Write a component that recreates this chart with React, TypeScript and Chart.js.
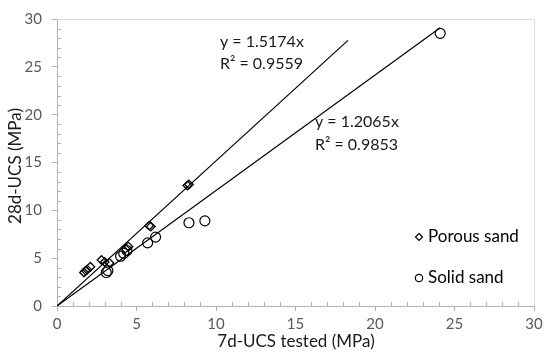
import React, { useEffect, useRef } from "react";
import { Chart, registerables } from "chart.js";

Chart.register(...registerables);

// ---- Data ----
const porousX = [1.7, 1.9, 2.1, 1.8, 2.8, 3.0, 3.3, 4.3, 4.5, 5.8, 5.9, 8.2, 8.3];
const porousY = [3.5, 3.8, 4.1, 3.7, 4.8, 4.6, 4.5, 6.0, 6.2, 8.4, 8.3, 12.6, 12.7];
const solidX = [3.1, 3.2, 4.0, 4.2, 4.4, 5.7, 6.2, 8.3, 9.3, 24.1];
const solidY = [3.5, 3.7, 5.2, 5.5, 5.8, 6.6, 7.2, 8.7, 8.9, 28.5];

const porousSlope = 1.5174;
const porousR2 = "0.9559";
const porousLineX = [0, 18.3];
const solidSlope = 1.2065;
const solidR2 = "0.9853";
const solidLineX = [0, 24.1];

const seriesNames = ["Porous sand", "Solid sand"];
const xTitle = "7d-UCS tested (MPa)";
const yTitle = "28d-UCS (MPa)";
const axisMin = 0;
const axisMax = 30;
const majorStep = 5;
const minorStep = 1;

const FONT = "Lato, 'Open Sans', sans-serif";
const AXIS_COLOR = "#b3b3b3";

const decorPlugin = {
  id: "decor",
  afterDraw(chart: any) {
    const { ctx, chartArea: ca, scales } = chart;
    const x = scales.x;
    const y = scales.y;
    ctx.save();
    // plot frame top & right
    ctx.strokeStyle = "#d9d9d9";
    ctx.lineWidth = 1;
    ctx.beginPath();
    ctx.moveTo(ca.left, Math.round(ca.top) + 0.5);
    ctx.lineTo(Math.round(ca.right) + 0.5, Math.round(ca.top) + 0.5);
    ctx.lineTo(Math.round(ca.right) + 0.5, ca.bottom);
    ctx.stroke();

    // minor ticks (inside)
    ctx.strokeStyle = AXIS_COLOR;
    ctx.beginPath();
    for (let v = axisMin + minorStep; v < axisMax; v += minorStep) {
      if (v % majorStep === 0) continue;
      const px = Math.round(x.getPixelForValue(v)) + 0.5;
      ctx.moveTo(px, ca.bottom);
      ctx.lineTo(px, ca.bottom - 4);
      const py = Math.round(y.getPixelForValue(v)) + 0.5;
      ctx.moveTo(ca.left, py);
      ctx.lineTo(ca.left + 4, py);
    }
    ctx.stroke();

    // equations
    ctx.fillStyle = "#1a1a1a";
    ctx.font = `16px ${FONT}`;
    ctx.textBaseline = "middle";
    ctx.textAlign = "left";
    ctx.fillText(`y = ${porousSlope}x`, 220, 42);
    ctx.fillText(`R² = ${porousR2}`, 220, 64);
    ctx.fillText(`y = ${solidSlope}x`, 315, 122);
    ctx.fillText(`R² = ${solidR2}`, 315, 145);

    // legend
    ctx.fillStyle = "#000";
    ctx.font = `17px ${FONT}`;
    ctx.fillText(seriesNames[0], 428, 237);
    ctx.fillText(seriesNames[1], 428, 278);
    ctx.strokeStyle = "#000";
    ctx.lineWidth = 1.2;
    ctx.beginPath();
    ctx.moveTo(419, 233.5);
    ctx.lineTo(422.5, 237);
    ctx.lineTo(419, 240.5);
    ctx.lineTo(415.5, 237);
    ctx.closePath();
    ctx.stroke();
    ctx.beginPath();
    ctx.arc(419, 278, 3.7, 0, Math.PI * 2);
    ctx.stroke();

    // axis titles
    ctx.fillStyle = "#1a1a1a";
    ctx.font = `17px ${FONT}`;
    ctx.textAlign = "center";
    ctx.fillText(xTitle, 296, 342);
    ctx.save();
    ctx.translate(16, 166);
    ctx.rotate(-Math.PI / 2);
    ctx.fillText(yTitle, 0, 0);
    ctx.restore();
    ctx.restore();
  },
};

export default function App() {
  const ref = useRef<HTMLCanvasElement | null>(null);
  useEffect(() => {
    if (!ref.current) return;
    const porous = porousX.map((v, i) => ({ x: v, y: porousY[i] }));
    const solid = solidX.map((v, i) => ({ x: v, y: solidY[i] }));
    const pLine = porousLineX.map((v) => ({ x: v, y: porousSlope * v }));
    const sLine = solidLineX.map((v) => ({ x: v, y: solidSlope * v }));
    const tickFont = { family: FONT, size: 15 };
    const chart = new Chart(ref.current, {
      type: "scatter",
      data: {
        datasets: [
          {
            label: "Porous trend",
            data: pLine,
            showLine: true,
            borderColor: "#000",
            borderWidth: 1.2,
            pointRadius: 0,
            fill: false,
          },
          {
            label: "Solid trend",
            data: sLine,
            showLine: true,
            borderColor: "#000",
            borderWidth: 1.2,
            pointRadius: 0,
            fill: false,
          },
          {
            label: seriesNames[0],
            data: porous,
            pointStyle: "rectRot",
            pointRadius: 4.3,
            borderColor: "#000",
            borderWidth: 1.3,
            backgroundColor: "rgba(255,255,255,0)",
          },
          {
            label: seriesNames[1],
            data: solid,
            pointStyle: "circle",
            pointRadius: 5,
            borderColor: "#000",
            borderWidth: 1.2,
            backgroundColor: "rgba(255,255,255,0)",
          },
        ],
      },
      options: {
        animation: false,
        responsive: false,
        maintainAspectRatio: false,
        layout: { padding: { top: 13, right: 16, left: 0, bottom: 0 } },
        plugins: { legend: { display: false }, tooltip: { enabled: false } },
        scales: {
          x: {
            type: "linear",
            min: axisMin,
            max: axisMax,
            ticks: { stepSize: majorStep, color: "#595959", font: tickFont, padding: 4 },
            grid: { drawOnChartArea: false, tickLength: 5, color: AXIS_COLOR },
            border: { color: AXIS_COLOR },
            afterFit: (s: any) => {
              s.height = 48;
            },
          },
          y: {
            type: "linear",
            min: axisMin,
            max: axisMax,
            ticks: { stepSize: majorStep, color: "#595959", font: tickFont, padding: 10 },
            grid: { drawOnChartArea: false, tickLength: 5, color: AXIS_COLOR },
            border: { color: AXIS_COLOR },
            afterFit: (s: any) => {
              s.width = 57;
            },
          },
        },
      },
      plugins: [decorPlugin],
    });
    return () => chart.destroy();
  }, []);
  return (
    <div style={{ position: "fixed", left: 0, top: 0, width: 550, height: 354, background: "#fff" }}>
      <canvas ref={ref} width={550} height={354} style={{ width: 550, height: 354, display: "block" }} />
    </div>
  );
}
